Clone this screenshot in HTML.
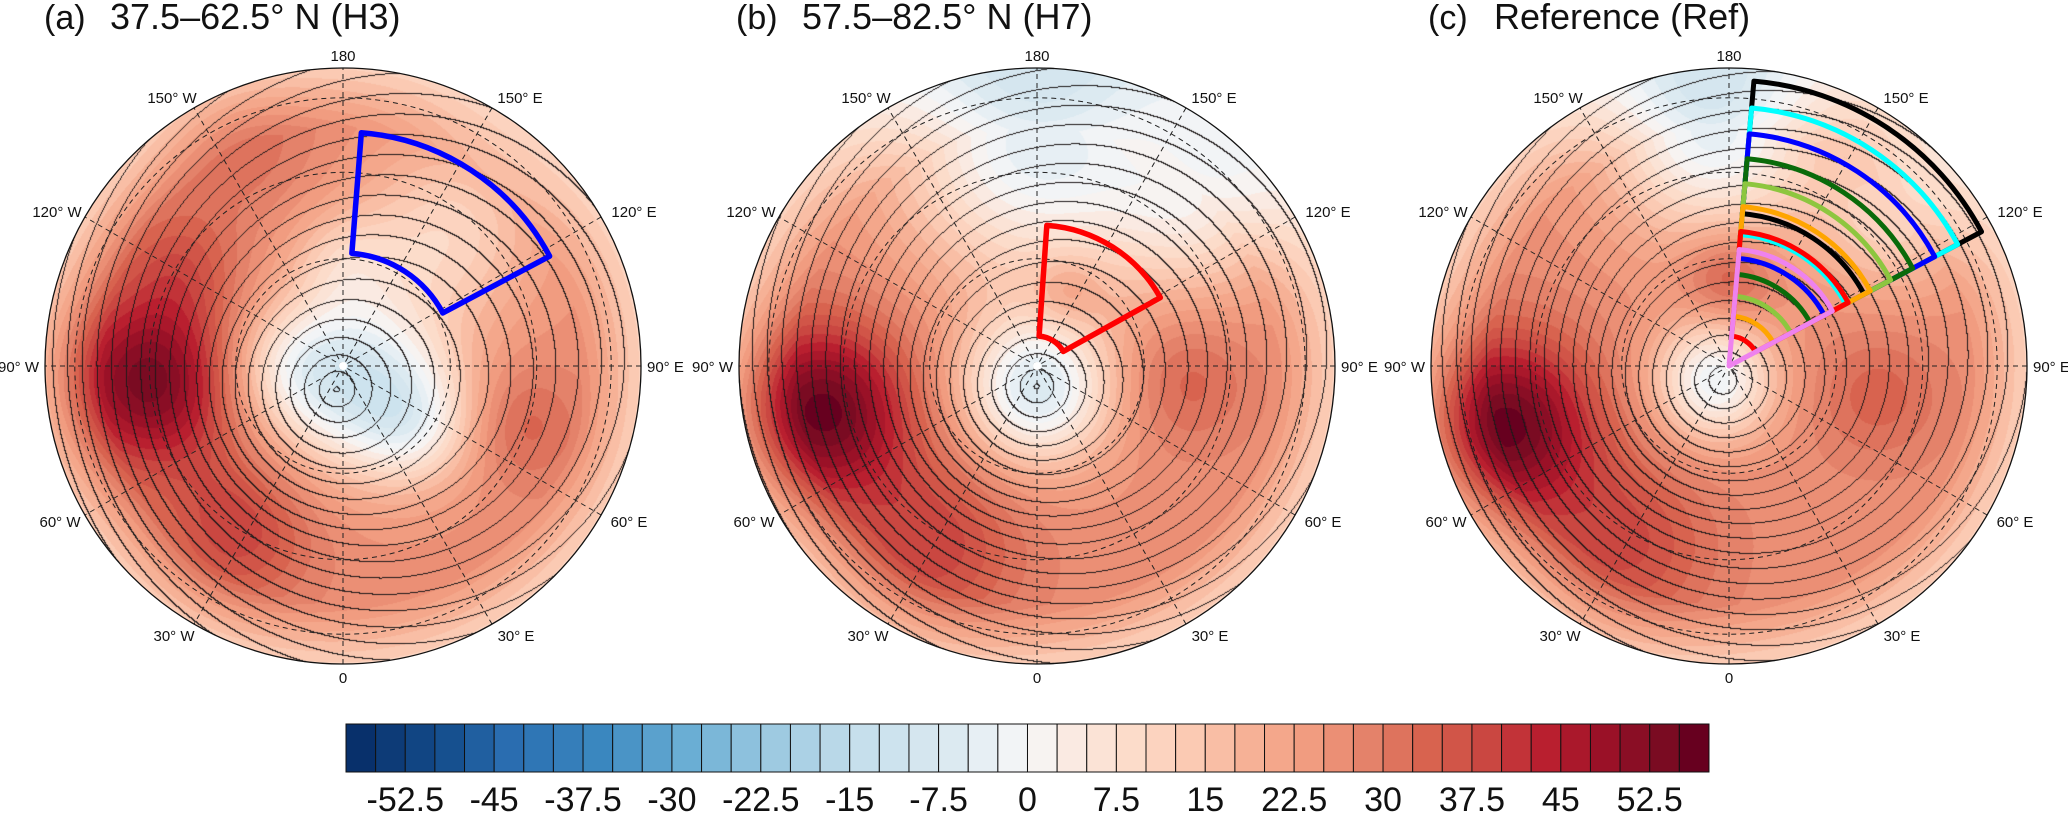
<!DOCTYPE html>
<html><head><meta charset="utf-8">
<style>
html,body{margin:0;padding:0;background:#fff;}
#wrap{position:relative;width:2068px;height:813px;overflow:hidden;background:#fff;}
canvas{position:absolute;}
svg{position:absolute;left:0;top:0;}
text{font-family:"Liberation Sans",Arial,sans-serif;}
</style></head>
<body><div id="wrap">
<canvas id="ca" width="600" height="600" style="left:43px;top:66px"></canvas>
<canvas id="cb" width="600" height="600" style="left:737px;top:66px"></canvas>
<canvas id="cc" width="600" height="600" style="left:1429px;top:66px"></canvas>
<svg id="ov" width="2068" height="813" xmlns="http://www.w3.org/2000/svg"></svg>
</div>
<script>
const R=298;
const pal=(function(){
 const anchors=[[0,"#08306b"],[3,"#16508f"],[5,"#2a6db0"],[8,"#3a87bf"],[11,"#6aaed4"],[14,"#9ecae1"],[17,"#c6dfec"],[20,"#dceaf1"],[22,"#f2f4f6"],
 [23,"#f7f3f1"],[24,"#faeae2"],[26,"#fcdcca"],[28,"#fbcab3"],[30,"#f6b196"],[32,"#f19c80"],[34,"#e4826a"],[36,"#d8634f"],[38,"#ca4741"],[40,"#b91f2f"],[42,"#9a1127"],[44,"#7a0b22"],[45,"#67001f"]];
 function h(c){return [parseInt(c.substr(1,2),16),parseInt(c.substr(3,2),16),parseInt(c.substr(5,2),16)];}
 const out=[];
 for(let k=0;k<46;k++){
  let i=0;while(i<anchors.length-1&&anchors[i+1][0]<k)i++;
  const a=anchors[i],b=anchors[Math.min(i+1,anchors.length-1)];
  const t=b[0]==a[0]?0:(k-a[0])/(b[0]-a[0]);
  const ca=h(a[1]),cb=h(b[1]);
  out.push([0,1,2].map(j=>Math.round(ca[j]+(cb[j]-ca[j])*t)));
 }
 return out;})();
function G(u,v,u0,v0,s,a){const d=((u-u0)*(u-u0)+(v-v0)*(v-v0))/(s*s);return a*Math.exp(-d);}
function edge(u,v){const r=Math.hypot(u,v);return r>0.8?-14*(r-0.8)/0.2:0;}
function gfun(u0,v0,base,amp,kl,kn,kne){return (u,v)=>{const du=u-u0,dv=v-v0;const r=Math.hypot(du,dv);const p=Math.atan2(dv,du);
  const f=1+kl*Math.cos(p-Math.PI)*Math.min(1,r*2)+kn*Math.cos(p+Math.PI/2)*Math.min(1,r*2)+kne*Math.cos(p+1.0)*Math.min(1,r*2);return base+amp*Math.pow(r,0.95)*f;};}
const B=26;
const cfg={
 ca:{s:(u,v)=>B+G(u,v,-0.65,0.05,0.3,28)+G(u,v,-0.55,-0.35,0.2,8)+G(u,v,-0.35,0.55,0.25,13)+G(u,v,0.05,0.05,0.3,-32)+G(u,v,0.25,0.2,0.2,-15)+G(u,v,-0.2,0.0,0.2,-12)+G(u,v,0.35,-0.45,0.3,-15)+G(u,v,0.0,-0.35,0.18,-10)+G(u,v,0.6,0.2,0.2,8)+G(u,v,-0.35,-0.75,0.25,6)+edge(u,v),
  g:gfun(-0.02,0.08,3248,175,0.15,0,-0.12)},
 cb:{s:(u,v)=>B+G(u,v,-0.72,0.15,0.3,30)+G(u,v,-0.35,0.6,0.3,13)+G(u,v,0.0,0.08,0.25,-32)+G(u,v,0.0,-0.75,0.45,-30)+G(u,v,0.55,-0.55,0.3,-18)+G(u,v,0.5,0.05,0.22,8)+G(u,v,0.1,-0.25,0.12,8)+edge(u,v),
  g:gfun(0,0.07,3238,185,0.15,-0.12,0)},
 cc:{s:(u,v)=>B+G(u,v,-0.75,0.2,0.3,30)+G(u,v,-0.35,0.6,0.3,12)+G(u,v,-0.05,0.05,0.2,-28)+G(u,v,-0.05,-0.8,0.35,-30)+G(u,v,0.55,-0.5,0.25,-15)+G(u,v,0.0,-0.3,0.15,12)+G(u,v,0.5,0.1,0.22,8)+edge(u,v),
  g:gfun(-0.02,0.05,3240,185,0.15,-0.1,0)}
};
for(const id of ["ca","cb","cc"]){
 const cv=document.getElementById(id),ctx=cv.getContext("2d");const N=600;
 const img=ctx.createImageData(N,N);const gg=new Float32Array((N+1)*(N+1));
 for(let y=0;y<=N;y++)for(let x=0;x<=N;x++){const u=(x+0.5-300)/R,v=(y+0.5-300)/R;gg[y*(N+1)+x]=cfg[id].g(u,v);}
 for(let y=0;y<N;y++)for(let x=0;x<N;x++){
  const u=(x+0.5-300)/R,v=(y+0.5-300)/R;const r=Math.hypot(u,v);if(r>1)continue;
  const s=cfg[id].s(u,v);let k=Math.floor((s+57.5)/2.5);k=Math.max(0,Math.min(45,k));
  let c=pal[k];const g0=Math.floor(gg[y*(N+1)+x]/10),g1=Math.floor(gg[y*(N+1)+x+1]/10),g2=Math.floor(gg[(y+1)*(N+1)+x]/10);
  if(g0!=g1||g0!=g2)c=[30,25,25];
  const o=(y*N+x)*4;img.data[o]=c[0];img.data[o+1]=c[1];img.data[o+2]=c[2];img.data[o+3]=255;}
 ctx.putImageData(img,0,0);
}
const NS="http://www.w3.org/2000/svg";const ov=document.getElementById("ov");
function el(t,a,txt){const e=document.createElementNS(NS,t);for(const k in a)e.setAttribute(k,a[k]);if(txt!==undefined)e.textContent=txt;ov.appendChild(e);return e;}
function P(cx,cy,r,l){const a=l*Math.PI/180;return [cx+r*Math.sin(a),cy+r*Math.cos(a)];}
function sector(cx,cy,r1,r2,l1,l2,col,w){
 const a=P(cx,cy,r2,l1),b=P(cx,cy,r2,l2);let d=`M${a[0]},${a[1]} A${r2},${r2} 0 0 1 ${b[0]},${b[1]} `;
 if(r1<=0){d+=`L${cx},${cy} Z`;}else{const c=P(cx,cy,r1,l2),e=P(cx,cy,r1,l1);d+=`L${c[0]},${c[1]} A${r1},${r1} 0 0 0 ${e[0]},${e[1]} Z`;}
 el("path",{d:d,fill:"none",stroke:col,"stroke-width":w,"stroke-linejoin":"round"});}
const centers=[343,1037,1729],cy=366;
const titles=[["(a)","37.5–62.5° N (H3)"],["(b)","57.5–82.5° N (H7)"],["(c)","Reference (Ref)"]];
centers.forEach((cx,i)=>{
 const dash={fill:"none",stroke:"#222","stroke-width":1,"stroke-dasharray":"5,4"};
 [0.36,0.65,0.9].forEach(f=>el("circle",Object.assign({cx:cx,cy:cy,r:R*f},dash)));
 for(let l=0;l<180;l+=30){const a=P(cx,cy,R,l),b=P(cx,cy,R,l+180);el("line",Object.assign({x1:a[0],y1:a[1],x2:b[0],y2:b[1]},dash));}
 el("circle",{cx:cx,cy:cy,r:R,fill:"none",stroke:"#111","stroke-width":1.3});
 el("circle",{cx:cx,cy:cy,r:4,fill:"#fff"});
 const L=[["180",0,-311,"middle"],["150° W",-171,-269,"middle"],["150° E",177,-269,"middle"],["120° W",-286,-155,"middle"],["120° E",291,-155,"middle"],
  ["90° W",-304,0,"end"],["90° E",304,0,"start"],["60° W",-283,155,"middle"],["60° E",286,155,"middle"],["30° W",-169,269,"middle"],["30° E",173,269,"middle"],["0",0,311,"middle"]];
 L.forEach(t=>el("text",{x:cx+t[1],y:cy+t[2]+6,"font-size":15,"text-anchor":t[3],fill:"#111"},t[0]));
 const tx=44+692*i;el("text",{x:tx,y:29,"font-size":34,fill:"#111"},titles[i][0]);
 el("text",{x:tx+66,y:29,"font-size":36,fill:"#111"},titles[i][1]);
});
sector(343,366,113,234,175.5,118,"#0000ff",5.5);
sector(1037,366,30,141,176,119,"#ff0000",5.5);
[["#000000",286,153],["#00ffff",259,132],["#0000ff",233,108],["#0a6b0a",208,92],["#8dc63f",183,70],["#ffa500",160,50],["#ff0000",135,30],["#ee82ee",117,0]]
 .forEach(s=>sector(1729,366,s[2],s[1],175,118,s[0],5));
const x0=346,bw=29.63;
for(let k=0;k<46;k++){const c=pal[k];el("rect",{x:x0+k*bw,y:724,width:bw,height:48,fill:`rgb(${c[0]},${c[1]},${c[2]})`,stroke:"#111","stroke-width":1});}
for(let j=0;j<15;j++){const v=-52.5+7.5*j;el("text",{x:x0+(2+3*j)*bw,y:811,"font-size":34,"text-anchor":"middle",fill:"#111"},String(v));}
</script>
</body></html>
